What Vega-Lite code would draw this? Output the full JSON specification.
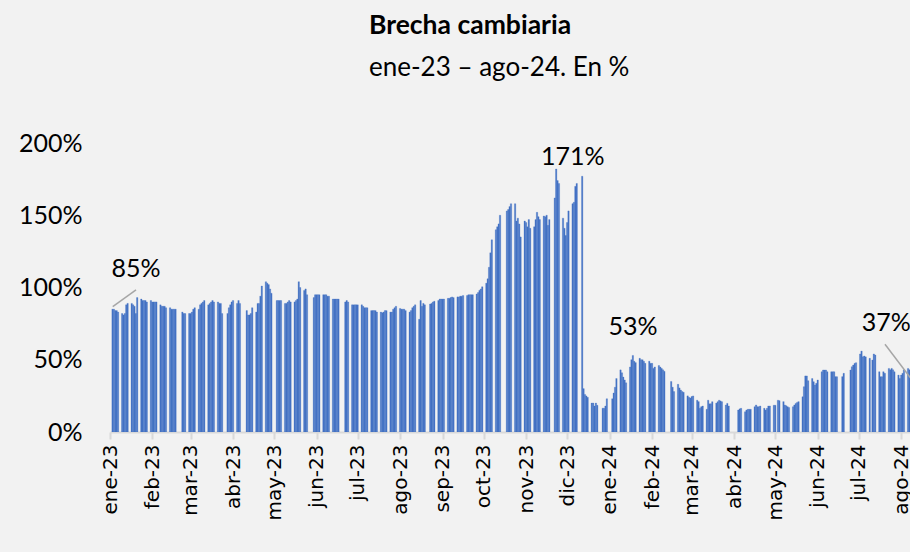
{
"$schema":"https://vega.github.io/schema/vega-lite/v6.json",
"width":801,"height":289,"autosize":"none",
"padding":{"left":110,"top":143,"right":0,"bottom":120},
"background":"#f2f2f2",
"title":{"text":"Brecha cambiaria","subtitle":"ene-23 – ago-24. En %","anchor":"start","frame":"group","dx":259,"offset":50,"font":"Lato","fontSize":26.5,"fontWeight":"bold","color":"#000000","subtitleFont":"Lato","subtitleFontSize":26,"subtitleColor":"#000000","subtitlePadding":16},
"datasets":{
"brecha":[
{"d":"2023-01-02","v":85},{"d":"2023-01-03","v":85},{"d":"2023-01-04","v":84},{"d":"2023-01-05","v":84},{"d":"2023-01-06","v":83},
{"d":"2023-01-09","v":82},{"d":"2023-01-10","v":81},{"d":"2023-01-11","v":82},{"d":"2023-01-12","v":88},{"d":"2023-01-13","v":89},
{"d":"2023-01-16","v":89},{"d":"2023-01-17","v":88},{"d":"2023-01-18","v":87},{"d":"2023-01-19","v":82},{"d":"2023-01-20","v":93},
{"d":"2023-01-23","v":92},{"d":"2023-01-24","v":91},{"d":"2023-01-25","v":91},{"d":"2023-01-26","v":91},{"d":"2023-01-27","v":90},
{"d":"2023-01-30","v":91},{"d":"2023-01-31","v":90},{"d":"2023-02-01","v":90},{"d":"2023-02-02","v":90},{"d":"2023-02-03","v":90},
{"d":"2023-02-06","v":88},{"d":"2023-02-07","v":87},{"d":"2023-02-08","v":87},{"d":"2023-02-09","v":87},{"d":"2023-02-10","v":86},
{"d":"2023-02-13","v":86},{"d":"2023-02-14","v":85},{"d":"2023-02-15","v":85},{"d":"2023-02-16","v":85},{"d":"2023-02-17","v":85},
{"d":"2023-02-22","v":83},{"d":"2023-02-23","v":82},{"d":"2023-02-24","v":82},
{"d":"2023-02-27","v":82},{"d":"2023-02-28","v":82},{"d":"2023-03-01","v":83},{"d":"2023-03-02","v":85},{"d":"2023-03-03","v":86},
{"d":"2023-03-06","v":85},{"d":"2023-03-07","v":88},{"d":"2023-03-08","v":89},{"d":"2023-03-09","v":90},{"d":"2023-03-10","v":91},
{"d":"2023-03-13","v":88},{"d":"2023-03-14","v":89},{"d":"2023-03-15","v":90},{"d":"2023-03-16","v":91},{"d":"2023-03-17","v":90},
{"d":"2023-03-20","v":90},{"d":"2023-03-21","v":89},{"d":"2023-03-22","v":89},{"d":"2023-03-23","v":82},
{"d":"2023-03-27","v":82},{"d":"2023-03-28","v":86},{"d":"2023-03-29","v":88},{"d":"2023-03-30","v":90},{"d":"2023-03-31","v":91},
{"d":"2023-04-03","v":89},{"d":"2023-04-04","v":91},{"d":"2023-04-05","v":89},
{"d":"2023-04-10","v":84},{"d":"2023-04-11","v":81},{"d":"2023-04-12","v":81},{"d":"2023-04-13","v":82},{"d":"2023-04-14","v":86},
{"d":"2023-04-17","v":83},{"d":"2023-04-18","v":89},{"d":"2023-04-19","v":89},{"d":"2023-04-20","v":94},{"d":"2023-04-21","v":101},
{"d":"2023-04-24","v":104},{"d":"2023-04-25","v":103},{"d":"2023-04-26","v":102},{"d":"2023-04-27","v":99},{"d":"2023-04-28","v":96},
{"d":"2023-05-02","v":91},{"d":"2023-05-03","v":91},{"d":"2023-05-04","v":91},{"d":"2023-05-05","v":91},
{"d":"2023-05-08","v":89},{"d":"2023-05-09","v":89},{"d":"2023-05-10","v":90},{"d":"2023-05-11","v":91},{"d":"2023-05-12","v":90},
{"d":"2023-05-15","v":90},{"d":"2023-05-16","v":91},{"d":"2023-05-17","v":92},{"d":"2023-05-18","v":104},{"d":"2023-05-19","v":100},
{"d":"2023-05-22","v":98},{"d":"2023-05-23","v":99},{"d":"2023-05-24","v":95},
{"d":"2023-05-29","v":93},{"d":"2023-05-30","v":95},{"d":"2023-05-31","v":95},{"d":"2023-06-01","v":95},{"d":"2023-06-02","v":95},
{"d":"2023-06-05","v":95},{"d":"2023-06-06","v":95},{"d":"2023-06-07","v":95},{"d":"2023-06-08","v":94},{"d":"2023-06-09","v":94},
{"d":"2023-06-12","v":92},{"d":"2023-06-13","v":92},{"d":"2023-06-14","v":92},{"d":"2023-06-15","v":92},{"d":"2023-06-16","v":92},
{"d":"2023-06-21","v":90},{"d":"2023-06-22","v":91},{"d":"2023-06-23","v":90},
{"d":"2023-06-26","v":88},{"d":"2023-06-27","v":88},{"d":"2023-06-28","v":88},{"d":"2023-06-29","v":88},{"d":"2023-06-30","v":88},
{"d":"2023-07-03","v":88},{"d":"2023-07-04","v":87},{"d":"2023-07-05","v":86},{"d":"2023-07-06","v":86},{"d":"2023-07-07","v":86},
{"d":"2023-07-10","v":84},{"d":"2023-07-11","v":84},{"d":"2023-07-12","v":84},{"d":"2023-07-13","v":84},{"d":"2023-07-14","v":83},
{"d":"2023-07-17","v":83},{"d":"2023-07-18","v":82.5},{"d":"2023-07-19","v":83},{"d":"2023-07-20","v":84},{"d":"2023-07-21","v":84},
{"d":"2023-07-24","v":83},{"d":"2023-07-25","v":83},{"d":"2023-07-26","v":85},{"d":"2023-07-27","v":86},{"d":"2023-07-28","v":87},
{"d":"2023-07-31","v":85.5},{"d":"2023-08-01","v":85},{"d":"2023-08-02","v":85},{"d":"2023-08-03","v":85},{"d":"2023-08-04","v":84},
{"d":"2023-08-07","v":83},{"d":"2023-08-08","v":84},{"d":"2023-08-09","v":86},{"d":"2023-08-10","v":87},{"d":"2023-08-11","v":88},
{"d":"2023-08-14","v":78},{"d":"2023-08-15","v":91},{"d":"2023-08-16","v":87},{"d":"2023-08-17","v":89},{"d":"2023-08-18","v":88},
{"d":"2023-08-22","v":88.5},{"d":"2023-08-23","v":89},{"d":"2023-08-24","v":90},{"d":"2023-08-25","v":90.5},
{"d":"2023-08-28","v":91},{"d":"2023-08-29","v":92},{"d":"2023-08-30","v":92},{"d":"2023-08-31","v":92},{"d":"2023-09-01","v":92},
{"d":"2023-09-04","v":92.5},{"d":"2023-09-05","v":92.5},{"d":"2023-09-06","v":93},{"d":"2023-09-07","v":93.5},{"d":"2023-09-08","v":93},
{"d":"2023-09-11","v":93.5},{"d":"2023-09-12","v":93.5},{"d":"2023-09-13","v":94},{"d":"2023-09-14","v":94},{"d":"2023-09-15","v":94.5},
{"d":"2023-09-18","v":94.5},{"d":"2023-09-19","v":95},{"d":"2023-09-20","v":95},{"d":"2023-09-21","v":95},{"d":"2023-09-22","v":95},
{"d":"2023-09-25","v":95.5},{"d":"2023-09-26","v":96.5},{"d":"2023-09-27","v":98},{"d":"2023-09-28","v":99},{"d":"2023-09-29","v":100.5},
{"d":"2023-10-02","v":103},{"d":"2023-10-03","v":106},{"d":"2023-10-04","v":114},{"d":"2023-10-05","v":124},{"d":"2023-10-06","v":133},
{"d":"2023-10-09","v":140},{"d":"2023-10-10","v":142},{"d":"2023-10-11","v":144},{"d":"2023-10-12","v":150},
{"d":"2023-10-17","v":153},{"d":"2023-10-18","v":154},{"d":"2023-10-19","v":156},{"d":"2023-10-20","v":158},
{"d":"2023-10-23","v":158},{"d":"2023-10-24","v":146},{"d":"2023-10-25","v":148},{"d":"2023-10-26","v":144},{"d":"2023-10-27","v":135},
{"d":"2023-10-30","v":146},{"d":"2023-10-31","v":145},{"d":"2023-11-01","v":142},{"d":"2023-11-02","v":147},{"d":"2023-11-03","v":141},
{"d":"2023-11-06","v":142},{"d":"2023-11-07","v":147},{"d":"2023-11-08","v":152},{"d":"2023-11-09","v":149},{"d":"2023-11-10","v":147},
{"d":"2023-11-13","v":149.5},{"d":"2023-11-14","v":149},{"d":"2023-11-15","v":150},{"d":"2023-11-16","v":143},{"d":"2023-11-17","v":147},
{"d":"2023-11-21","v":162},{"d":"2023-11-22","v":182},{"d":"2023-11-23","v":174},{"d":"2023-11-24","v":172},
{"d":"2023-11-27","v":148},{"d":"2023-11-28","v":141},{"d":"2023-11-29","v":136},{"d":"2023-11-30","v":145},{"d":"2023-12-01","v":153},
{"d":"2023-12-04","v":158},{"d":"2023-12-05","v":159},{"d":"2023-12-06","v":170},{"d":"2023-12-07","v":172},
{"d":"2023-12-11","v":177},{"d":"2023-12-12","v":30},{"d":"2023-12-13","v":26},{"d":"2023-12-14","v":25},{"d":"2023-12-15","v":24},
{"d":"2023-12-18","v":20},{"d":"2023-12-19","v":20},{"d":"2023-12-20","v":18},{"d":"2023-12-21","v":20},{"d":"2023-12-22","v":18.5},
{"d":"2023-12-26","v":16.5},{"d":"2023-12-27","v":16.5},{"d":"2023-12-28","v":18},{"d":"2023-12-29","v":23},
{"d":"2024-01-02","v":23},{"d":"2024-01-03","v":27},{"d":"2024-01-04","v":31},{"d":"2024-01-05","v":37},
{"d":"2024-01-08","v":43},{"d":"2024-01-09","v":41},{"d":"2024-01-10","v":38},{"d":"2024-01-11","v":36},{"d":"2024-01-12","v":34},
{"d":"2024-01-15","v":45},{"d":"2024-01-16","v":50},{"d":"2024-01-17","v":53},{"d":"2024-01-18","v":49},{"d":"2024-01-19","v":48},
{"d":"2024-01-22","v":51},{"d":"2024-01-23","v":50},{"d":"2024-01-24","v":50},{"d":"2024-01-25","v":49},{"d":"2024-01-26","v":47.5},
{"d":"2024-01-29","v":49},{"d":"2024-01-30","v":47.5},{"d":"2024-01-31","v":47.5},{"d":"2024-02-01","v":44},{"d":"2024-02-02","v":45},
{"d":"2024-02-05","v":46},{"d":"2024-02-06","v":45},{"d":"2024-02-07","v":44},{"d":"2024-02-08","v":43},{"d":"2024-02-09","v":42},
{"d":"2024-02-14","v":35},{"d":"2024-02-15","v":31},{"d":"2024-02-16","v":28},
{"d":"2024-02-19","v":33},{"d":"2024-02-20","v":30.5},{"d":"2024-02-21","v":29},{"d":"2024-02-22","v":28},{"d":"2024-02-23","v":27.5},
{"d":"2024-02-26","v":25},{"d":"2024-02-27","v":24},{"d":"2024-02-28","v":23.5},{"d":"2024-02-29","v":24.5},{"d":"2024-03-01","v":25},
{"d":"2024-03-04","v":22},{"d":"2024-03-05","v":21},{"d":"2024-03-06","v":16.5},{"d":"2024-03-07","v":17.5},{"d":"2024-03-08","v":18},
{"d":"2024-03-11","v":15.7},{"d":"2024-03-12","v":22},{"d":"2024-03-13","v":19.5},{"d":"2024-03-14","v":19.5},{"d":"2024-03-15","v":21},
{"d":"2024-03-18","v":20},{"d":"2024-03-19","v":21},{"d":"2024-03-20","v":22},{"d":"2024-03-21","v":21.5},{"d":"2024-03-22","v":21},
{"d":"2024-03-25","v":18.7},{"d":"2024-03-26","v":19.8},{"d":"2024-03-27","v":18},
{"d":"2024-04-03","v":15.2},{"d":"2024-04-04","v":16},{"d":"2024-04-05","v":16.4},
{"d":"2024-04-08","v":14},{"d":"2024-04-09","v":15.2},{"d":"2024-04-10","v":15.7},{"d":"2024-04-11","v":15.7},{"d":"2024-04-12","v":15.7},
{"d":"2024-04-15","v":17.5},{"d":"2024-04-16","v":18.7},{"d":"2024-04-17","v":17.5},{"d":"2024-04-18","v":17.5},{"d":"2024-04-19","v":18},
{"d":"2024-04-22","v":16.4},{"d":"2024-04-23","v":15.2},{"d":"2024-04-24","v":16.4},{"d":"2024-04-25","v":18},{"d":"2024-04-26","v":18},
{"d":"2024-04-29","v":18.5},{"d":"2024-04-30","v":18.5},{"d":"2024-05-02","v":22},{"d":"2024-05-03","v":21.7},
{"d":"2024-05-06","v":21},{"d":"2024-05-07","v":18.7},{"d":"2024-05-08","v":18.2},{"d":"2024-05-09","v":17.5},{"d":"2024-05-10","v":17},
{"d":"2024-05-13","v":17.5},{"d":"2024-05-14","v":18.7},{"d":"2024-05-15","v":19.8},{"d":"2024-05-16","v":20.5},{"d":"2024-05-17","v":21},
{"d":"2024-05-20","v":24.4},{"d":"2024-05-21","v":31.4},{"d":"2024-05-22","v":38.8},{"d":"2024-05-23","v":38.8},{"d":"2024-05-24","v":35.5},
{"d":"2024-05-27","v":37},{"d":"2024-05-28","v":34.8},{"d":"2024-05-29","v":32.5},{"d":"2024-05-30","v":33.7},{"d":"2024-05-31","v":36},
{"d":"2024-06-03","v":41.7},{"d":"2024-06-04","v":42.9},{"d":"2024-06-05","v":42.9},{"d":"2024-06-06","v":42.9},{"d":"2024-06-07","v":41.7},
{"d":"2024-06-10","v":41.7},{"d":"2024-06-11","v":41.7},{"d":"2024-06-12","v":41.7},{"d":"2024-06-13","v":38.3},{"d":"2024-06-14","v":38.3},
{"d":"2024-06-18","v":38.3},{"d":"2024-06-19","v":40.6},
{"d":"2024-06-24","v":42.9},{"d":"2024-06-25","v":45.2},{"d":"2024-06-26","v":46.3},{"d":"2024-06-27","v":47.5},{"d":"2024-06-28","v":48},
{"d":"2024-07-01","v":54},{"d":"2024-07-02","v":56},{"d":"2024-07-03","v":52},{"d":"2024-07-04","v":52.6},{"d":"2024-07-05","v":52},
{"d":"2024-07-08","v":51},{"d":"2024-07-10","v":49.8},{"d":"2024-07-11","v":54},{"d":"2024-07-12","v":53.3},
{"d":"2024-07-15","v":41.7},{"d":"2024-07-16","v":38.3},{"d":"2024-07-17","v":38.3},{"d":"2024-07-18","v":41.7},{"d":"2024-07-19","v":40.6},
{"d":"2024-07-22","v":44},{"d":"2024-07-23","v":43},{"d":"2024-07-24","v":44},{"d":"2024-07-25","v":43},{"d":"2024-07-26","v":41.7},
{"d":"2024-07-29","v":39.4},{"d":"2024-07-30","v":37.1},{"d":"2024-07-31","v":39.4},{"d":"2024-08-01","v":40.6},{"d":"2024-08-02","v":43},
{"d":"2024-08-05","v":44},{"d":"2024-08-06","v":43},{"d":"2024-08-07","v":41}
],
"labels":[
{"d":"2023-01-20","v":113,"t":"85%"},
{"d":"2023-12-05","v":190.5,"t":"171%"},
{"d":"2024-01-18","v":72.5,"t":"53%"},
{"d":"2024-07-21","v":75.4,"t":"37%"}
],
"leaders":[
{"d":"2023-01-03","v":86.7,"d2":"2023-01-20","v2":98.3},
{"d":"2024-07-20","v":60.7,"d2":"2024-08-08","v2":37}
]
},
"layer":[
{"data":{"name":"brecha"},
 "mark":{"type":"bar","color":"#4472c4","clip":true,"binSpacing":0,"timeUnitBandSize":1,"timeUnitBandPosition":0,"stroke":"#4472c4","strokeWidth":0.3},
 "encoding":{
  "x":{"field":"d","type":"temporal","timeUnit":"utcyearmonthdate",
   "scale":{"type":"utc","domain":[{"year":2023,"month":1,"date":1,"utc":true},{"year":2024,"month":8,"date":8,"utc":true}]},
   "axis":{"title":null,"grid":false,"domainColor":"#d9d9d9","domainWidth":2,"tickColor":"#d9d9d9","tickWidth":2,"tickSize":7,
     "tickCount":{"interval":"month","step":1},"labelAngle":270,"labelFont":"DejaVu Sans","labelFontSize":20,"labelColor":"#000000","labelPadding":5,"labelOverlap":false,"labelFlush":false,"labelBound":false,
     "labelExpr":"['ene','feb','mar','abr','may','jun','jul','ago','sep','oct','nov','dic'][utcmonth(datum.value)] + '-' + utcFormat(datum.value, '%y')"}},
  "y":{"field":"v","type":"quantitative","scale":{"domain":[0,200],"nice":false},
   "axis":{"title":null,"grid":false,"domain":false,"ticks":false,"values":[0,50,100,150,200],"labelExpr":"datum.value + '%'","labelFont":"Lato","labelFontSize":25,"labelColor":"#000000","labelPadding":28}}
 }},
{"data":{"name":"labels"},
 "mark":{"type":"text","font":"Lato","fontSize":25,"color":"#000000","align":"center","baseline":"middle"},
 "encoding":{"x":{"field":"d","type":"temporal"},"y":{"field":"v","type":"quantitative"},"text":{"field":"t"}}},
{"data":{"name":"leaders"},
 "mark":{"type":"rule","color":"#a6a6a6","strokeWidth":1.5,"clip":true},
 "encoding":{"x":{"field":"d","type":"temporal"},"x2":{"field":"d2"},"y":{"field":"v","type":"quantitative"},"y2":{"field":"v2"}}}
],
"config":{"view":{"stroke":null}}
}
